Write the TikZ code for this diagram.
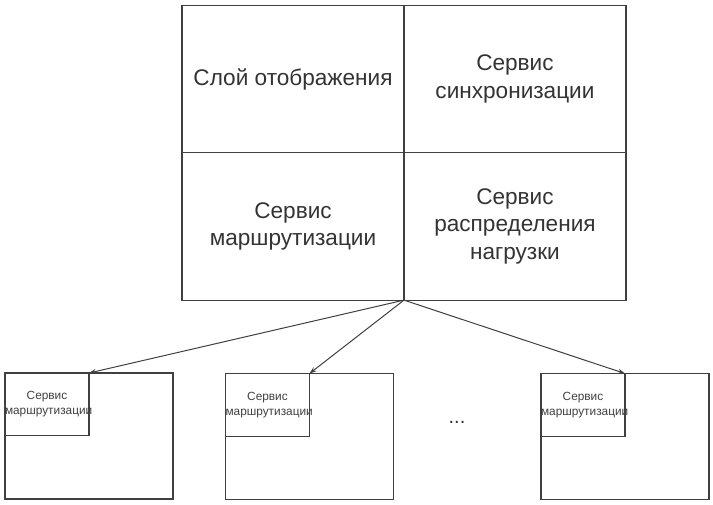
\documentclass[tikz,border=0pt]{standalone}
\usepackage{fontspec}
\setmainfont{Liberation Sans}
\usetikzlibrary{arrows.meta, positioning}

\begin{document}
\begin{tikzpicture}[
    x=0.035cm, y=-0.035cm,
    cell/.style={draw=black!75, line width=1.1pt, minimum width=7.77cm, minimum height=5.16cm,
                 inner sep=0pt, outer sep=0pt, align=center, text=black!80,
                 font=\fontsize{22.5}{27.5}\selectfont},
    nodebox/.style={draw=black!75, line width=1.1pt, minimum width=5.88cm, minimum height=4.41cm,
                    inner sep=0pt, outer sep=0pt},
    subbox/.style={draw=black!75, line width=1.1pt, text width=2.94cm, minimum height=2.2cm,
                   inner sep=0pt, outer sep=0pt, anchor=north west, align=center, text=black!75,
                   font=\fontsize{11.8}{15}\selectfont},
    arr/.style={-{Stealth[length=7pt, width=5pt]}, line width=1pt, black!75}
]
\useasboundingbox (0,0) rectangle (713,504);

% ---- Top: service grid ----
\node[cell] (view) at (293, 79) {Слой отображения};
\node[cell, right=0pt of view] (sync) {Сервис\\синхронизации};
\node[cell, below=0pt of view] (route) {Сервис\\маршрутизации};
\node[cell, right=0pt of route] (balance) {Сервис\\распределения\\нагрузки};

% ---- Bottom: nodes ----
\node[nodebox] (node1) at (89, 436) {};
\node[subbox] (sub1) at (node1.north west) {Сервис\\маршрутизации};

\node[nodebox] (node2) at (309.5, 436.5) {};
\node[subbox] (sub2) at (node2.north west) {Сервис\\маршрутизации};

\node[nodebox] (node3) at (625, 436.5) {};
\node[subbox] (sub3) at (node3.north west) {Сервис\\маршрутизации};

\node[text=black!80, font=\fontsize{20}{22}\selectfont] (dots) at (457, 422) {...};

% ---- Arrows ----
\draw[arr] (route.south east) -- (sub1.north east);
\draw[arr] (route.south east) -- (sub2.north east);
\draw[arr] (route.south east) -- (sub3.north east);

\end{tikzpicture}
\end{document}
